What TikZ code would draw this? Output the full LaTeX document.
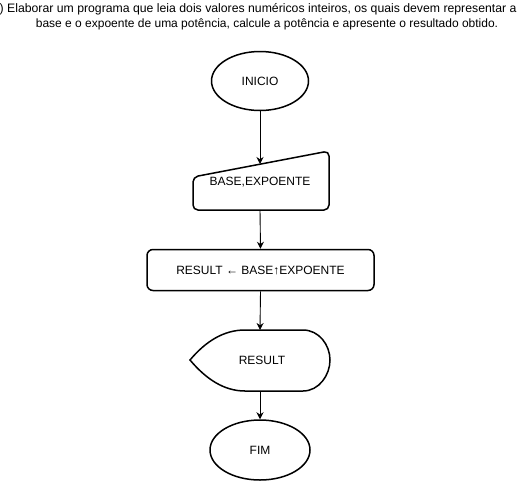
\documentclass[tikz,border=0pt]{standalone}
\usepackage{fontspec}
\setmainfont{Liberation Sans}
\usetikzlibrary{arrows.meta,shapes.geometric}
\begin{document}
\begin{tikzpicture}[x=1pt,y=-1pt,
  shapeline/.style={line width=1.5pt},
  txt/.style={font=\fontsize{12}{14}\selectfont, inner sep=0pt},
  term/.style={ellipse, draw, shapeline, txt, minimum width=97pt, minimum height=59pt},
  flow/.style={draw, line width=0.9pt, -{Stealth[length=7pt,width=7pt]}}]
\useasboundingbox (0,0) rectangle (521,482);
% title
\node[txt, font=\fontsize{12.25}{14}\selectfont, anchor=base west] (t1) at (-0.5,12) {) Elaborar um programa que leia dois valores numéricos inteiros, os quais devem representar a};
\node[txt, anchor=base] (t2) at (267,27) {base e o expoente de uma potência, calcule a potência e apresente o resultado obtido.};
% start
\node[term] (inicio) at (260,81) {INICIO};
% manual input
\draw[shapeline, rounded corners=5pt] (193,177) -- (329,151) -- (329,210) -- (193,210) -- cycle;
\node[txt] (inp) at (260,182) {BASE,EXPOENTE};
\coordinate (inTop) at (260,164);
\coordinate (inBot) at (260,210);
% process
\node[draw, shapeline, txt, rounded corners=6pt, minimum width=227pt, minimum height=41pt] (proc) at (260.5,270) {RESULT ← BASE↑EXPOENTE};
% display
\draw[shapeline] (190,360) .. controls (206,341) and (224,330) .. (245,330) -- (303,330)
  .. controls (319,330) and (330,345) .. (330,360)
  .. controls (330,375) and (319,391) .. (303,391) -- (245,391)
  .. controls (224,391) and (206,379) .. (190,360) -- cycle;
\node[txt] (disp) at (262,360) {RESULT};
\coordinate (dispTop) at (260,330);
\coordinate (dispBot) at (260,391);
% end
\node[term, minimum width=100pt, minimum height=60pt] (fim) at (260,450) {FIM};
% connectors
\draw[flow] (inicio.south) -- (inTop);
\draw[flow] (inBot) -- (proc.north);
\draw[flow] (proc.south) -- (dispTop);
\draw[flow] (dispBot) -- (fim.north);
\end{tikzpicture}
\end{document}
